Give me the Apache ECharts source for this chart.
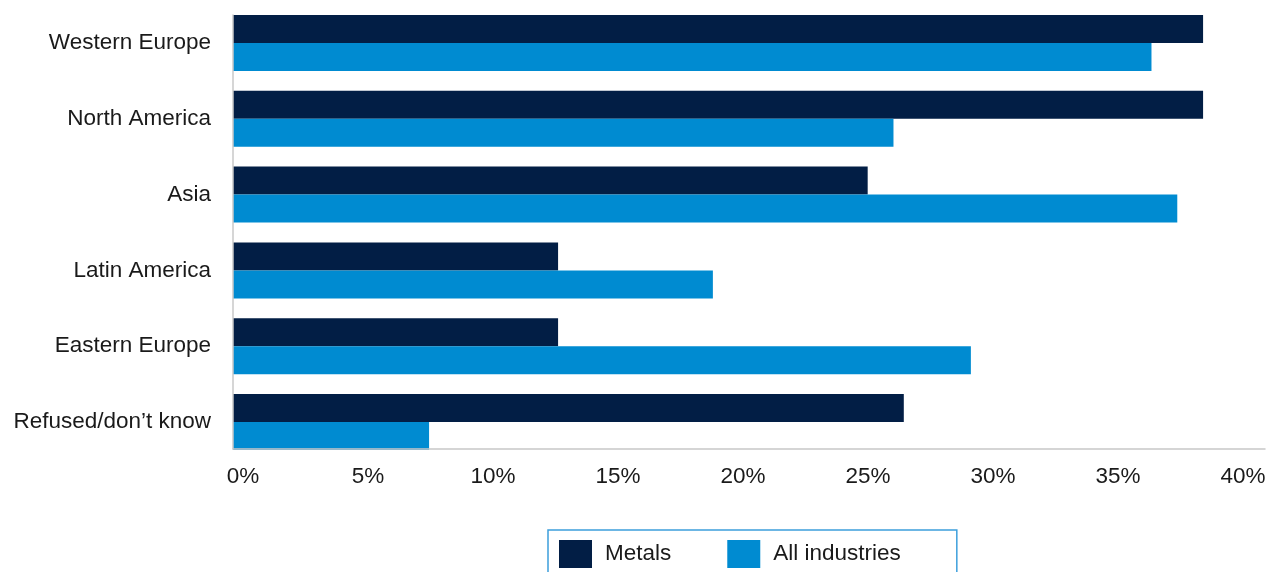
<!DOCTYPE html>
<html>
<head>
<meta charset="utf-8">
<script src="https://cdn.jsdelivr.net/npm/echarts@6/dist/echarts.min.js"></script>
<style>
html,body{margin:0;padding:0;background:#fff;}
#chart{width:1277px;height:572px;}
</style>
</head>
<body>
<div id="chart"></div>
<script>
const categories = ['Western Europe', 'North America', 'Asia', 'Latin America', 'Eastern Europe', 'Refused/don\u2019t know'];
const metals = [37.6, 37.6, 24.6, 12.6, 12.6, 26.0];
const allIndustries = [35.6, 25.6, 36.6, 18.6, 28.6, 7.6];
const seriesNames = ['Metals', 'All industries'];
const tickMin = 0, tickMax = 40, tickStep = 5;

const FONT = '"Liberation Sans", Arial, Helvetica, sans-serif';
const TXT = '#1a1a1a';
const AXIS = '#c8c8c8';
const FS = 22.5;

const chart = echarts.init(document.getElementById('chart'), null, {renderer: 'canvas'});
chart.setOption({
  animation: false,
  backgroundColor: '#ffffff',
  textStyle: {fontFamily: FONT},
  grid: [
    {left: 233, right: 12, top: 5, bottom: 112},   // bars
    {left: 233, right: 12, top: 15, bottom: 123},  // axis lines
    {left: 243, right: 34, top: 15, bottom: 123}   // tick labels
  ],
  legend: {
    data: seriesNames,
    left: 548, top: 530,
    orient: 'horizontal',
    itemWidth: 33, itemHeight: 28, itemGap: 56,
    padding: [10, 56, 10, 11],
    borderColor: '#3d9fdc', borderWidth: 1.5,
    icon: 'rect',
    textStyle: {fontSize: FS, color: TXT, fontFamily: FONT, padding: [0, 0, 0, 8]}
  },
  xAxis: [
    {gridIndex: 0, type: 'value', min: tickMin, max: tickMax, interval: tickStep, show: false},
    {gridIndex: 1, type: 'value', min: tickMin, max: tickMax, interval: tickStep, z: 5,
     axisLine: {show: true, lineStyle: {color: AXIS, width: 1.5}},
     axisTick: {show: false}, axisLabel: {show: false}, splitLine: {show: false}},
    {gridIndex: 2, type: 'value', min: tickMin, max: tickMax, interval: tickStep,
     axisLine: {show: false}, axisTick: {show: false}, splitLine: {show: false},
     axisLabel: {show: true, formatter: '{value}%', fontSize: FS, color: TXT, margin: 16, fontFamily: FONT}}
  ],
  yAxis: [
    {gridIndex: 0, type: 'category', data: categories, inverse: true,
     axisLine: {show: false}, axisTick: {show: false}, splitLine: {show: false},
     axisLabel: {fontSize: FS, color: TXT, margin: 22, fontFamily: FONT, padding: [0, 0, 6, 0]}},
    {gridIndex: 1, type: 'value', min: 0, max: 1, z: 5,
     axisLine: {show: true, lineStyle: {color: AXIS, width: 1.5}},
     axisTick: {show: false}, axisLabel: {show: false}, splitLine: {show: false}},
    {gridIndex: 2, type: 'value', show: false, min: 0, max: 1}
  ],
  series: [
    {name: seriesNames[0], type: 'bar', xAxisIndex: 0, yAxisIndex: 0, data: metals,
     barWidth: 28, barGap: '0%', itemStyle: {color: '#021e45'}},
    {name: seriesNames[1], type: 'bar', xAxisIndex: 0, yAxisIndex: 0, data: allIndustries,
     barWidth: 28, barGap: '0%', itemStyle: {color: '#008bd1'}}
  ]
});
</script>
</body>
</html>
